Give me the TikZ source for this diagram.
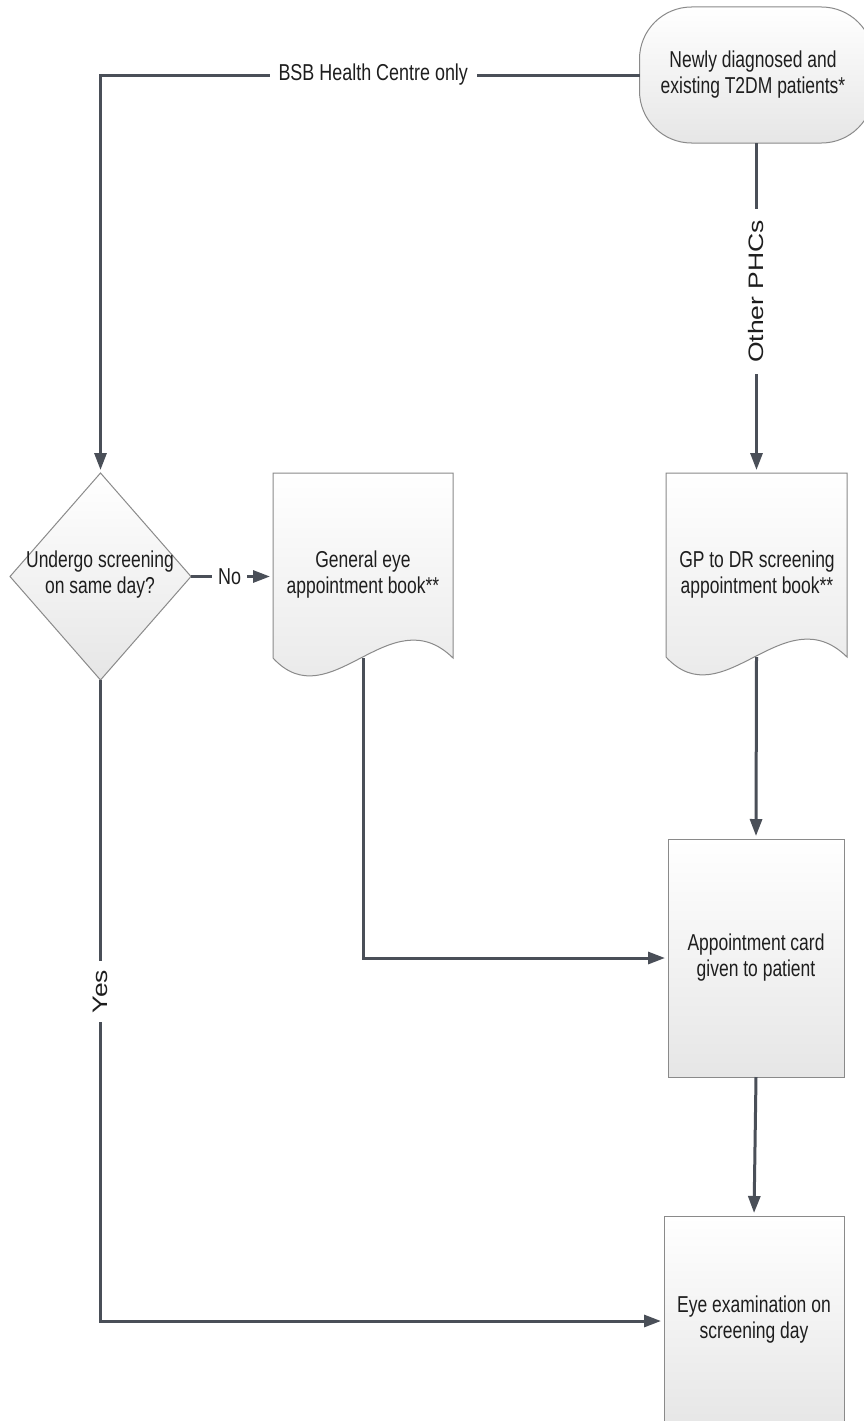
\documentclass[tikz,border=0pt]{standalone}
\usepackage{fontspec}
\setmainfont{Liberation Sans}
\usetikzlibrary{arrows.meta,shapes.geometric,calc}
\definecolor{linec}{HTML}{4A4F58}
\definecolor{bord}{HTML}{8A8A8A}
\definecolor{txtc}{HTML}{1E1E1E}
\definecolor{shadelo}{HTML}{E6E6E6}
\begin{document}
\begin{tikzpicture}[x=1pt,y=-1pt,
  conn/.style={line width=3pt, draw=linec, shorten >=3pt,
    -{Triangle[length=17pt,width=12pt]}},
  shapebox/.style={draw=bord, line width=1pt, top color=white, bottom color=shadelo},
  frame/.style={inner sep=0pt, outer sep=0pt},
  txt/.style={font=\fontsize{23}{26}\selectfont, align=center, text=txtc,
    inner sep=0pt, xscale=0.76},
  lbl/.style={font=\fontsize{23}{26}\selectfont, text=txtc, fill=white,
    inner sep=11pt, xscale=0.78},
  vlbl/.style={font=\fontsize{26.5}{30}\selectfont, text=txtc, fill=white,
    inner sep=11pt, xscale=0.79, rotate=90}
]
\useasboundingbox (0,0) rectangle (864,1421);
\clip (0,0) rectangle (864,1421);
\fill[white] (0,0) rectangle (864,1421);

% start terminal
\node[shapebox, frame, rounded corners=52pt, minimum width=234pt,
  minimum height=136pt] (term) at (756.5,75) {};
\node[txt] (termText) at (753,75) {Newly diagnosed and\\existing T2DM patients*};

% decision
\node[shapebox, frame, diamond, minimum width=181pt, minimum height=207pt]
  (dec) at (100.5,576.5) {};
\node[txt] (decText) at (100,575) {Undergo screening\\on same day?};

% document: general eye appointment book
\node[frame, minimum width=180pt, minimum height=185pt] (gen) at (363,565.5) {};
\path[shapebox] (gen.north west) -- (gen.north east) -- (gen.south east)
  .. controls ($(gen.south east)+(-63,-62)$) and ($(gen.south west)+(57,62)$)
  .. (gen.south west) -- cycle;
\node[txt] (genText) at (363,575) {General eye\\appointment book**};

% document: GP to DR screening appointment book
\node[frame, minimum width=181pt, minimum height=184pt] (gp) at (756.5,565) {};
\path[shapebox] (gp.north west) -- (gp.north east) -- (gp.south east)
  .. controls ($(gp.south east)+(-63,-62)$) and ($(gp.south west)+(57,62)$)
  .. (gp.south west) -- cycle;
\node[txt] (gpText) at (757,575) {GP to DR screening\\appointment book**};

% process boxes
\node[shapebox, frame, minimum width=176pt, minimum height=238pt] (card) at (756,958) {};
\node[txt] (cardText) at (756,958) {Appointment card\\given to patient};

\node[shapebox, frame, minimum width=180pt, minimum height=210pt] (exam) at (754,1321) {};
\node[txt] (examText) at (754,1320) {Eye examination on\\screening day};

% connectors
\draw[conn] (term.west) -| node[lbl, pos=0.247] {BSB Health Centre only} (dec.north);
\draw[conn] (term.south) -- node[vlbl, pos=0.45] {Other PHCs} (gp.north);
\draw[conn] (dec.east) -- node[lbl, inner sep=8pt, pos=0.47] {No} (dec.east -| gen.west);
\draw[conn] (gp.south) -- (card.north);
\draw[conn] (gen.south) |- (card.west);
\draw[conn] (card.south) -- (exam.north);
\draw[conn] (dec.south) |- node[vlbl, inner sep=9pt, pos=0.243] {Yes} (exam.west);
\end{tikzpicture}
\end{document}
